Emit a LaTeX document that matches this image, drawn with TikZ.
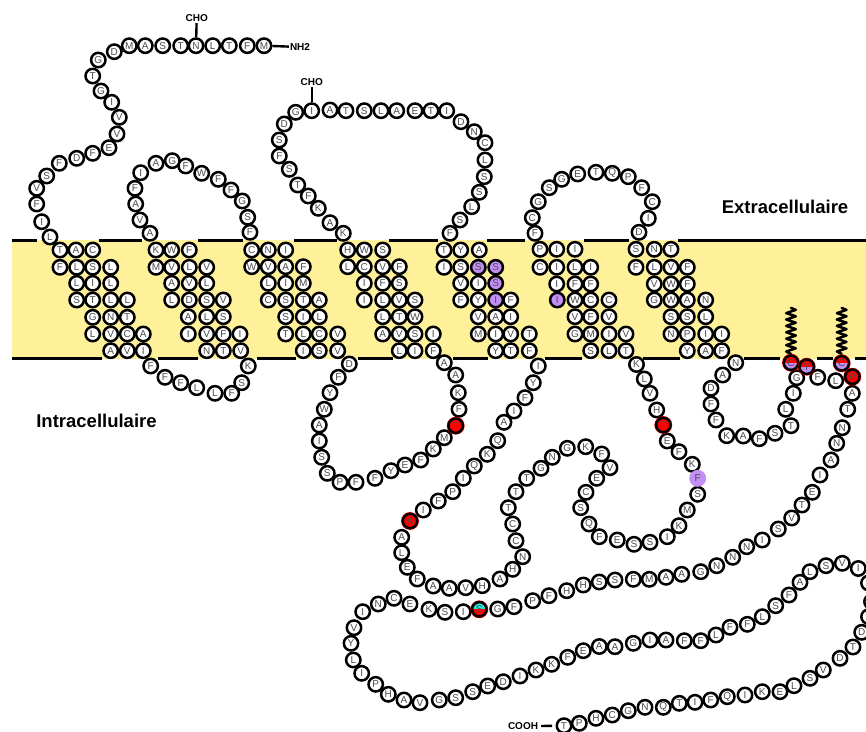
\documentclass[tikz,border=0pt]{standalone}
\usepackage{fontspec}
\setmainfont{Liberation Sans}
\definecolor{band}{HTML}{FFF09A}
\definecolor{lipid}{HTML}{C38FF5}
\definecolor{ltr}{HTML}{4D4D4D}
\definecolor{hotred}{HTML}{FF0000}
\definecolor{cyanmark}{HTML}{22E6E6}
\tikzset{
  res/.style={circle,draw=black,line width=2.5pt,fill=white,minimum size=14.4pt,inner sep=0pt,
    text=ltr,font=\fontsize{10}{10}\selectfont},
  redres/.style={res,fill=hotred,preaction={draw=hotred,line width=3.4pt}},
  purpres/.style={res,fill=lipid},
  halfres/.style 2 args={res,preaction={draw=hotred,line width=3.4pt},path picture={
    \fill[#1] (path picture bounding box.north west) rectangle (path picture bounding box.east);
    \fill[#2] (path picture bounding box.south west) rectangle (path picture bounding box.east);}},
  mem/.style={line width=2.6pt,black},
  tick/.style={line width=2.4pt,black},
  tag/.style={font=\bfseries\fontsize{10}{10}\selectfont,inner sep=1pt},
  side/.style={font=\bfseries\fontsize{18.5}{18.5}\selectfont,inner sep=0pt},
  spring/.style={line width=2.5pt,black,line join=round,line cap=round}
}
\begin{document}
\begin{tikzpicture}[x=1pt,y=-1pt]
\useasboundingbox (0,0) rectangle (866,731);
\fill[band] (12,240) rectangle (866,359);
\foreach \a/\b in {12/37,99/142,198/243,294/337,389/438,487/525,584/629,678/866}
  \draw[mem] (\a,240.5) -- (\b,240.5);
\foreach \a/\b in {12/102,158/198,257/296,358/393,453/488,545/582,643/680,744/780,817/833,855/866}
  \draw[mem] (\a,358.5) -- (\b,358.5);
\node[side] (extra) at (785,207) {Extracellulaire};
\node[side] (intra) at (96.5,421) {Intracellulaire};
\foreach[count=\i] \x/\y/\t in {
247.3/45.7/F,229.3/45.7/T,212.7/45.7/L,180.7/45.7/T,162.7/45.7/S,145.3/45.7/A,129.3/45.7/M,114.3/51.7/D,98.3/60/G,92.7/76/T,101/91/G,111.7/102.3/I,119.3/117.3/V,117/134/V,109/147.7/E,92.7/153.3/F,76.7/158.3/D,59.3/163.3/F,46.7/176/S,36.7/188.3/V,36.7/204/F,41.7/221.7/I,50/237/L,
60/250/T,76/250/A,92.7/250/C,60/267.3/F,76.7/267.3/L,92.7/267.3/S,110.7/267.3/L,76.7/283.3/L,92.7/283.3/I,110.7/283.3/L,76.7/300/S,92.7/300/T,110.7/300/L,127.3/300/L,92.7/317.3/G,110.7/317.3/N,127.3/317.3/T,92.7/334/L,110.7/334/V,127.3/334/C,143.3/334/A,110.7/350.7/A,127.3/350.7/V,143.3/350.7/I,
150.7/366/F,165/377.3/F,180.7/382.7/F,196.7/387.7/L,215/393.3/L,231.7/393.3/F,241.7/382.7/S,248.3/366/K,
240.7/350.7/V,223.3/350.7/T,206.7/350.7/N,240/334/I,223.3/334/F,206.7/334/V,188.3/334/I,223.3/316.7/S,206.7/316.7/L,188.3/316.7/A,223.3/300/V,206.7/300/S,189.3/300/D,171.7/300/L,206.7/283.3/L,189.3/283.3/V,171.7/283.3/A,206.7/267.3/V,189.3/267.3/L,171.7/267.3/V,156/267.3/M,189.3/250/F,171.7/250/W,156/250/K,
150/233.3/A,140/220/V,135.7/204/A,135/188.3/F,140.7/172.7/I,156/163.3/A,172.3/160.7/G,185.7/166/F,201.7/173.3/W,218.3/179.3/F,231/190/F,242.3/201/G,247.7/217.3/S,250/232.3/F,
251.7/250/C,268.3/250/N,285.7/250/I,251.7/266.7/W,268.3/266.7/V,285.7/266.7/A,303.3/266.7/F,268.3/283.3/L,285.7/283.3/I,303.3/283.3/M,268.3/300/C,285.7/300/S,303.3/300/T,319.3/300/A,285.7/316.7/S,303.3/316.7/I,319.3/316.7/L,285.7/334/T,303.3/334/L,319.3/334/C,337.7/334/V,303.3/350.7/I,319.3/350.7/S,337.7/350.7/V,
349.3/364/D,338.3/377.3/F,330/392.7/Y,324.3/409.3/W,319.3/425/A,319.3/441/I,321.7/457.3/S,327.3/473.3/S,340/482.3/P,356/482.3/F,375/478.3/F,391/470.7/Y,405/465/E,420.7/460/F,433.3/449/K,444.3/437.7/M,459/409.3/F,458.3/392.7/K,455.7/375/A,444.3/362.7/A,
399.3/350.7/L,415/350.7/I,433.3/350.7/F,382.7/334/A,399.3/334/V,415/334/S,433.3/334/I,382.7/316.7/L,399.3/316.7/T,415/316.7/W,364.3/300/I,382.7/300/L,399.3/300/V,415/300/S,364.3/283.3/I,382.7/283.3/F,399.3/283.3/S,347.7/266.7/L,364.3/266.7/C,382.7/266.7/V,399.3/266.7/F,347.7/250/H,364.3/250/W,382.7/250/S,
343.3/233.3/K,330/222.7/A,318.3/208.3/K,308.3/196/F,297.7/185/T,289.3/169.3/S,279.3/156/F,279.3/140/S,284.3/124/D,295.7/112.3/G,330/110/A,346/110.7/T,364.3/110.7/S,381/110.7/L,396.7/110.7/A,415/110.7/E,431/110.7/T,446.7/110.7/I,461/121.7/D,474.3/131.7/N,485/142.7/C,485/160/L,484.3/176.7/S,479.3/192.3/S,471.7/206.7/L,460/220/S,450/233.3/F,
444/250/T,460.7/250/Y,479.3/250/A,444/267.3/I,460.7/267.3/S,460.7/283.3/V,478.3/283.3/I,460.7/300/F,478.3/300/Y,510.7/300/F,478.3/316.7/V,495.7/316.7/A,510.7/316.7/I,478.3/334/M,495.7/334/I,510.7/334/V,529.3/334/T,495.7/350.7/Y,510.7/350.7/T,529.3/350.7/F,
538.3/366/I,533.3/382.7/Y,525/397.7/F,514/411/I,504/422.3/A,497.7/440.7/Q,487.3/454.3/K,474.3/466/Q,463.3/478.3/I,452.7/491.7/P,438.3/501/F,423.3/510/I,401.7/537.3/A,401.7/552.7/L,407.3/567.3/E,417.3/579/F,433.3/586/A,449.3/588.3/A,465.7/587.7/V,482.3/585.7/H,500/579/A,512.7/569.3/H,522.7/556.7/N,516/540.7/C,512.7/524/C,508.3/507.7/T,516/491.7/T,526.7/478.3/T,541/468.3/G,552.3/457.3/N,567.3/448.3/G,585.7/446.7/K,601.7/454/F,610/467.7/V,596.7/478.3/E,586/492.3/C,580.7/507.7/S,589/524/Q,599.3/536.7/F,617.3/540/E,634/544.3/S,650/542.3/S,667.3/536.7/I,679/525.7/K,687.3/510/M,697.7/494.3/S,692.3/464.3/K,679/451.7/F,667.3/441/E,656.7/410/H,650/393.3/V,644.3/379/L,636.5/364.5/K,
590.7/350.7/S,609/350.7/L,626/350.7/T,575/334/G,590.7/334/M,609/334/I,626/334/V,575/316.7/V,590.7/316.7/F,609/316.7/V,575/300/W,590.7/300/C,609/300/C,556.7/284/I,575/284/F,590.7/284/F,540/267.3/C,556.7/267.3/I,575/267.3/L,590.7/267.3/I,540/249.3/P,556.7/249.3/I,575/249.3/I,
535/233.3/F,532.3/217.7/C,538.3/201.7/G,549.3/187.7/S,561.7/179.3/G,577.7/174/E,596/172.3/T,612.3/173.3/Q,628.3/176.7/P,641.7/187.7/F,652.3/201.7/C,648.3/218.3/I,639/232.3/D,
636/249.3/S,654.3/249.3/N,671/249.3/T,636/267.3/F,654.3/267.3/L,671/267.3/V,687.3/267.3/F,654.3/284/V,671/284/W,687.3/284/F,654.3/300/G,671/300/W,687.3/300/A,705.7/300/N,671/316.7/S,687.3/316.7/S,705.7/316.7/L,671/334/N,687.3/334/P,705.7/334/I,721.7/334/I,687.3/350.7/Y,705.7/350.7/A,721.7/350.7/F,
735.7/362.7/N,722.7/375/A,711/388.3/D,711/404/F,716/420/F,726.7/435.7/K,743.3/436/A,759.3/438.7/F,775/433.3/S,791/425.7/T,785.7/409.3/L,793.3/393.3/I,796.7/377.7/G,817.7/377.3/F,835.7/380.7/L,852.3/393.3/A,847.7/409.3/T,842.3/427.7/N,836.7/443.3/N,831/460/A,820/475/I,812.3/492.3/E,802/505/T,791.7/518/V,778.3/529/S,762.3/540/I,746.7/546.7/N,732.7/557.3/N,716.7/565.7/N,700.7/571.7/G,681.7/574.3/A,666/577.3/A,649.3/579.3/M,633.3/579.3/F,615/580/S,599.3/582/S,583.3/585/H,566.7/590.7/H,549/595.7/F,532.7/600.7/P,514/606.7/F,497.7/609/G,463.3/611.7/I,445/612.3/S,429/609.3/K,410/604/E,394/598.3/C,378.3/604/N,362.7/611.7/I,354/627.7/V,351/643.3/Y,353.3/660/L,361.7/673.3/I,375.7/684.3/P,388.3/694.3/H,404/700/A,420/702.7/V,439.3/700/G,455.7/697.7/S,472.7/691.7/S,487.7/686/E,503.3/681.7/D,520/676/I,536/670/K,551.7/664.3/K,567.7/657.3/F,583.3/650.7/E,599.3/646.5/A,615/646.7/A,633.3/643.3/G,650/640/I,666/640/A,684.3/640.7/F,700.7/640.7/F,716/635/L,730/627.3/F,747.3/624.3/F,762.3/616.7/L,775.7/605.7/S,789/595/F,800/582.3/A,810/571.7/L,826/565.7/S,842.3/563.3/V,858.3/568.5/I,861.7/632.3/D,853/647/T,840/658.3/D,823.3/670/V,810/678.3/S,794/685.7/L,780/691.7/E,762.3/691.7/K,745/695/I,727.3/696.7/Q,710.7/700/F,695/702.3/I,679.3/703.3/T,663.3/707.3/Q,645/707.3/N,628.3/710.7/G,612.3/715/C,596/718.3/H,579.3/723.3/P}
  \node[res] (r\i) at (\x,\y) {\t};
% residues cut by the right edge of the picture
\node[res] (e1) at (868.5,583) {};
\node[res] (e2) at (871.5,601.7) {};
\node[res] (e3) at (868.5,616.7) {};
% named residues carrying a tag
\node[res] (met1) at (264,45.7) {M};
\node[res] (asn1) at (196,45.7) {N};
\node[res] (ile1) at (311.7,110.7) {I};
\node[res] (thrC) at (564,725.7) {T};
% purple residues
\node[purpres] (s1) at (478.3,267.3) {S};
\node[purpres] (s2) at (495.7,267.3) {S};
\node[purpres] (s3) at (495.7,283.3) {S};
\node[purpres] (i1) at (495.7,300) {I};
\node[purpres] (i2) at (557.3,300) {I};
\node[purpres,draw=lipid] (f1) at (697.7,478.3) {F};
% red residues
\node[redres] (t1) at (455.7,425.7) {T};
\node[redres] (a1) at (410,521) {A};
\node[redres] (t2) at (663.3,425) {T};
\node[redres] (p1) at (852.3,376.7) {P};
\node[halfres={cyanmark}{hotred}] (s4) at (479.3,609.3) {S};
% springs
\foreach \c in {791,841.7}
  \draw[spring] (\c,354) -- ++(-4.8,-2.5)
    \foreach \k in {1,...,6} { -- ++(9.6,-3.2) -- ++(-9.6,-3.2) } -- ++(9.6,-3.2) -- ++(-4.8,-2);
\node[halfres={hotred}{lipid}] (c1) at (791,362.7) {C};
\node[halfres={hotred}{lipid}] (y1) at (806.7,366.7) {Y};
\node[halfres={hotred}{lipid}] (c2) at (841.7,363.3) {C};
% tags
\node[tag] (nh2) at (300,47) {NH2};
\draw[tick] (met1) -- (nh2);
\node[tag] (cho1) at (196.7,18.5) {CHO};
\draw[tick] (asn1) -- (cho1);
\node[tag] (cho2) at (311.7,82.5) {CHO};
\draw[tick] (ile1) -- (cho2);
\node[tag] (cooh) at (523,726.2) {COOH};
\draw[tick,shorten <=3.5pt,shorten >=2pt] (thrC) -- (cooh);
\end{tikzpicture}
\end{document}
